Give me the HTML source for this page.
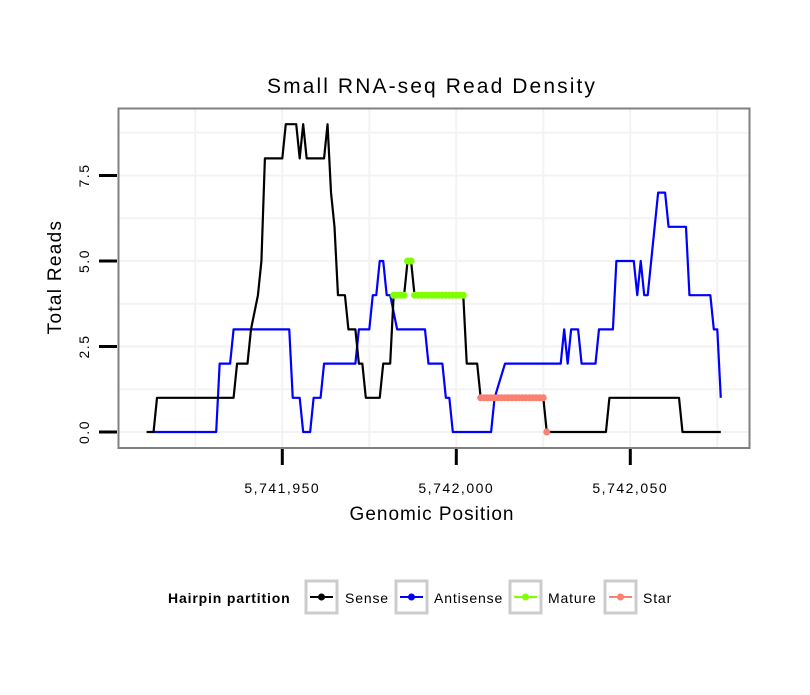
<!DOCTYPE html>
<html><head><meta charset="utf-8"><style>
body{margin:0;background:#fff;}
svg text{font-family:"Liberation Sans",Arial,sans-serif;}
</style></head><body>
<svg id="chart" width="810" height="690" xmlns="http://www.w3.org/2000/svg">
<rect width="810" height="690" fill="#fff"/>
<text x="432" y="93" text-anchor="middle" font-size="21" letter-spacing="2.1">Small RNA-seq Read Density</text>
<g id="grid"></g>
<g id="series"></g>
<rect x="118.5" y="108.5" width="631" height="339.5" fill="none" stroke="#808080" stroke-width="2"/>
<g id="axes"></g>
<text x="432" y="520" text-anchor="middle" font-size="19" letter-spacing="1">Genomic Position</text>
<text transform="translate(61,277) rotate(-90)" text-anchor="middle" font-size="19" letter-spacing="1.3">Total Reads</text>
<g font-size="14" letter-spacing="0.85">
<text x="168" y="603" font-weight="bold">Hairpin partition</text>
<g>
<rect x="306" y="581" width="31" height="32" fill="#fff" stroke="#cccccc" stroke-width="3"/>
<line x1="310" y1="597" x2="333" y2="597" stroke="#000" stroke-width="2"/><circle cx="321.5" cy="597" r="3.5" fill="#000"/>
<text x="345" y="603">Sense</text></g>
<g>
<rect x="396" y="581" width="31" height="32" fill="#fff" stroke="#cccccc" stroke-width="3"/>
<line x1="400" y1="597" x2="423" y2="597" stroke="#0000ff" stroke-width="2"/><circle cx="411.5" cy="597" r="3.5" fill="#0000ff"/>
<text x="434" y="603">Antisense</text></g>
<g>
<rect x="510" y="581" width="31" height="32" fill="#fff" stroke="#cccccc" stroke-width="3"/>
<line x1="514" y1="597" x2="537" y2="597" stroke="#7fff00" stroke-width="2"/><circle cx="525.5" cy="597" r="3.5" fill="#7fff00"/>
<text x="548" y="603">Mature</text></g>
<g>
<rect x="605" y="581" width="31" height="32" fill="#fff" stroke="#cccccc" stroke-width="3"/>
<line x1="609" y1="597" x2="632" y2="597" stroke="#fa8072" stroke-width="2"/><circle cx="620.5" cy="597" r="3.5" fill="#fa8072"/>
<text x="643" y="603">Star</text></g>
</g>
</svg>
<script>
// data: offsets from 5,741,950
const basePos = 5741950;
const senseOffsets = [-39,-37,-36,-14,-13,-10,-9,-7,-6,-5,0,1,4,5,6,7,12,13,14,15,16,18,19,21,22,23,24,28,29,31,32,35,36,37,38,52,53,56,57,75,76,93,94,114,115,126];
const senseValues  = [0,0,1,1,2,2,3,4,5,8,8,9,9,8,9,8,8,9,7,6,4,4,3,3,2,2,1,1,2,2,4,4,5,5,4,4,2,2,1,1,0,0,1,1,0,0];
const antiOffsets = [-37,-19,-18,-15,-14,2,3,5,6,8,9,11,12,21,22,25,26,27,28,29,30,31,33,41,42,46,47,48,49,60,61,64,80,81,82,83,85,86,90,91,95,96,101,102,103,104,105,108,110,111,116,117,123,124,125,126];
const antiValues  = [0,0,2,2,3,3,1,1,0,0,1,1,2,2,3,3,4,4,5,5,4,4,3,3,2,2,1,1,0,0,1,2,2,3,2,3,3,2,2,3,3,5,5,4,5,4,4,7,7,6,6,4,4,3,3,1];
const matureOffsets = [32,33,34,35,36,37,38,39,40,41,42,43,44,45,46,47,48,49,50,51,52];
const matureValues  = [4,4,4,4,5,5,4,4,4,4,4,4,4,4,4,4,4,4,4,4,4];
const starOffsets = [57,58,59,60,61,62,63,64,65,66,67,68,69,70,71,72,73,74,75,76];
const starValues  = [1,1,1,1,1,1,1,1,1,1,1,1,1,1,1,1,1,1,1,0];
const xTicks = [5741950, 5742000, 5742050];
const xTickLabels = ["5,741,950","5,742,000","5,742,050"];
const yTicks = [0, 2.5, 5, 7.5];
const yTickLabels = ["0.0","2.5","5.0","7.5"];

const NS="http://www.w3.org/2000/svg";
const xs = p => 282.3 + (p - basePos) * 3.48;
const ys = v => 432 - v * 34.2;
function mk(tag, attrs, parent){const e=document.createElementNS(NS,tag);for(const k in attrs)e.setAttribute(k,attrs[k]);parent.appendChild(e);return e;}
const grid=document.getElementById('grid'), ser=document.getElementById('series'), ax=document.getElementById('axes');
for(let p=basePos-25;p<=basePos+125;p+=25){
  const gl=mk('line',{x1:xs(p),x2:xs(p),y1:109,y2:447,stroke:'#f3f3f3','stroke-width':2},grid);
  
  
}
for(let v=0;v<=8.75;v+=1.25){
  const gl=mk('line',{x1:119,x2:749,y1:ys(v),y2:ys(v),stroke:'#f3f3f3','stroke-width':2},grid);
  
  
}
function line(offs, vals, color, name){
  const pts=offs.map((o,i)=>xs(basePos+o)+','+ys(vals[i])).join(' ');
  const pl=mk('polyline',{points:pts,fill:'none',stroke:color,'stroke-width':2.2,'stroke-linejoin':'round'},ser);
  
  
}
line(antiOffsets, antiValues, '#0000ff', 'antisense-line');
line(senseOffsets, senseValues, '#000000', 'sense-line');
function pts(offs, vals, color, name){
  line(offs, vals, color, name+'-line');
  offs.forEach((o,i)=>{
    const c=mk('circle',{cx:xs(basePos+o),cy:ys(vals[i]),r:3.5,fill:color},ser);
    
    
  });
}
pts(matureOffsets.slice(0,4), matureValues.slice(0,4), '#7fff00','mature');
pts(matureOffsets.slice(4,6), matureValues.slice(4,6), '#7fff00','mature');
pts(matureOffsets.slice(6), matureValues.slice(6), '#7fff00','mature');
pts(starOffsets.slice(0,-1), starValues.slice(0,-1), '#fa8072','star');
pts(starOffsets.slice(-1), starValues.slice(-1), '#fa8072','star');
xTicks.forEach((t,i)=>{
  const l=mk('line',{x1:xs(t),x2:xs(t),y1:449,y2:465,stroke:'#000','stroke-width':3},ax);
  
  
  const tx=mk('text',{x:xs(t),y:493,'text-anchor':'middle','font-size':14,'letter-spacing':1.5},ax);
  tx.textContent=xTickLabels[i];
  
  
});
yTicks.forEach((t,i)=>{
  const l=mk('line',{x1:99,x2:117,y1:ys(t),y2:ys(t),stroke:'#000','stroke-width':3},ax);
  
  
  const tx=mk('text',{transform:'translate(89,'+ys(t)+') rotate(-90)','text-anchor':'middle','font-size':14,'letter-spacing':1.5},ax);
  tx.textContent=yTickLabels[i];
  
  
});
</script>
</body></html>
